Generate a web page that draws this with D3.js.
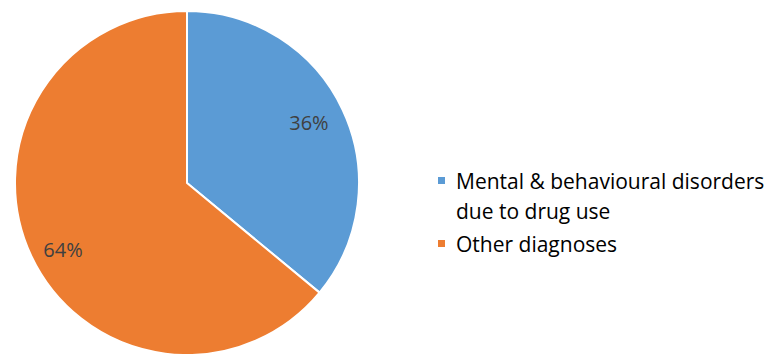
<!DOCTYPE html>
<html>
<head>
<meta charset="utf-8">
<script src="https://cdn.jsdelivr.net/npm/d3@7.9.0/dist/d3.min.js"></script>
<style>
  body { margin: 0; background: #fff; }
  svg { display: block; font-family: "Open Sans", Lato, sans-serif; }
</style>
</head>
<body>
<svg id="chart" width="774" height="354"></svg>
<script>
const categories = ['Mental & behavioural disorders due to drug use', 'Other diagnoses'];
const legendLines = [['Mental & behavioural disorders', 'due to drug use'], ['Other diagnoses']];
const values = [36, 64];
const colors = ['#5B9BD5', '#ED7D31'];

const svg = d3.select('#chart');
const cx = 187, cy = 183, radius = 172;

const data = categories.map((c, i) => ({ label: c, value: values[i] }));

let sliceGenerator = d3.pie()
  .value((d) => d.value)
  .sort(null);

let arcGenerator = d3.arc()
  .innerRadius(0)
  .outerRadius(radius);

let labelArc = d3.arc()
  .innerRadius(radius * 0.79)
  .outerRadius(radius * 0.79);

let arcData = sliceGenerator(data);
let g = svg.append('g').attr('transform', `translate(${cx},${cy})`);

arcData.forEach((d, idx) => {
  g.append('path')
    .attr('d', arcGenerator(d))
    .attr('fill', colors[idx])
    .attr('stroke', '#fff')
    .attr('stroke-width', 2)
    .attr('stroke-linejoin', 'round');
});

// label nudge, excel doesn't sit them exactly on the centroid
let nudgeY = [-3, 9];
arcData.forEach((d, idx) => {
  let [x, y] = labelArc.centroid(d);
  g.append('text')
    .attr('x', x - 1)
    .attr('y', y + nudgeY[idx])
    .attr('text-anchor', 'middle')
    .attr('dominant-baseline', 'central')
    .attr('font-size', 20)
    .attr('fill', '#404040')
    .text(`${d.data.value}%`);
});

// legend
let legend = svg.append('g').attr('transform', 'translate(438,0)');
let rowY = [189, 252];
legendLines.forEach((lines, idx) => {
  legend.append('rect')
    .attr('x', 0)
    .attr('y', rowY[idx] - 12)
    .attr('width', 7)
    .attr('height', 7)
    .attr('fill', colors[idx]);
  lines.forEach((line, j) => {
    legend.append('text')
      .attr('x', 18)
      .attr('y', rowY[idx] + j * 30)
      .attr('font-size', 21)
      .attr('fill', '#000')
      .text(line);
  });
});
</script>
</body>
</html>
